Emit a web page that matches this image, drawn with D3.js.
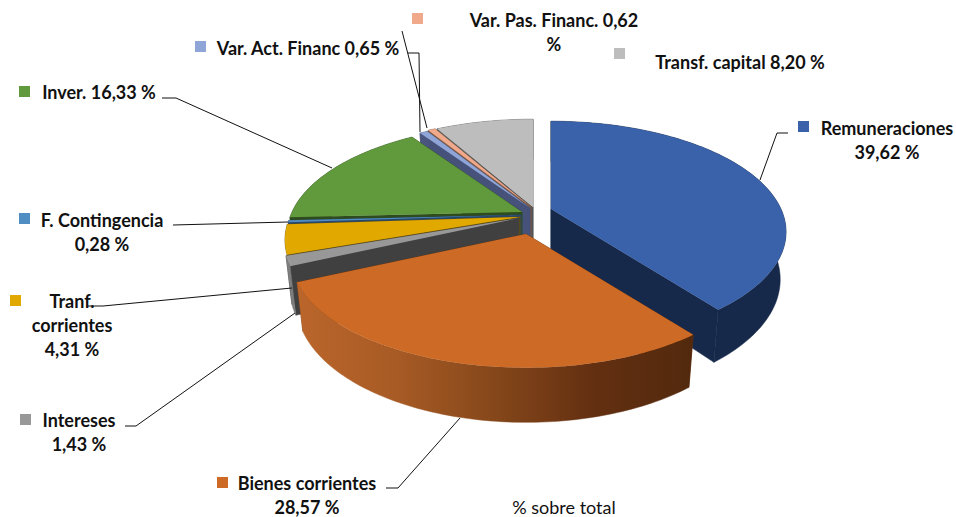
<!DOCTYPE html>
<html>
<head>
<meta charset="utf-8">
<script src="https://cdn.jsdelivr.net/npm/d3@7"></script>
<style>
html, body { margin: 0; padding: 0; background: #fff; }
text { font-family: Lato, "Open Sans", sans-serif; font-weight: 700; fill: #111; }
</style>
</head>
<body>
<svg id="chart" width="956" height="517"></svg>
<script>
// data, clockwise from twelve o'clock
const categories = ["Remuneraciones", "Bienes corrientes", "Intereses", "Tranf. corrientes", "F. Contingencia", "Inver.", "Var. Act. Financ", "Var. Pas. Financ.", "Transf. capital"]
const values = [39.62, 28.57, 1.43, 4.31, 0.28, 16.33, 0.65, 0.62, 8.20]
const footnote = "% sobre total"

// styles, same order as categories
const topColors = ["#3a62aa", "#cd6b26", "#989898", "#e1a900", "#4f8dc2", "#609a3c", "#8fa5d8", "#f0a98a", "#bdbdbd"]
const sideColors = ["#16294a", "url(#orangeWall)", "#7d7d7d", "#7a5c00", "#28486a", "#2f4c1e", "#4a5680", "#7a5a48", "#5b5b5b"]
const cutColors = ["#16294a", "#6a3512", "#404040", "#6e5300", "#28486a", "#2f4c1e", "#47527a", "#7a5a48", "#555555"]
const sliceShift = [[551, 209], [526, 234], [519, 218], [520, 217], [521, 215], [522, 212], [530, 208], [531, 207], [533, 207]]
const drawOrder = [8, 7, 6, 5, 4, 3, 2, 0, 1]

const svg = d3.select("#chart")
const tilt = 0.207, depth = 46, baseScale = 0.975
const scaleU = d3.scaleLinear().domain([-1, 1]).range([-230, 230])
const scaleV = d3.scaleLinear().domain([-1, 1]).range([-106, 106])

const slices = d3.pie().sort(null).value(d => d)(values)
const pathLine = d3.line()

// top=true is the upper face, otherwise the lower ring of the slice
function project(angle, radius, shift, top) {
    const u = Math.sin(angle) * radius
    const v = -Math.cos(angle) * radius
    const w = 1 / (1 - tilt * v)
    const k = top ? 1 : baseScale
    return [
        shift[0] + scaleU(u) * w * k,
        shift[1] + scaleV(v) * w * k + (top ? 0 : depth * w)
    ]
}

function arcAngles(s) {
    const n = Math.max(2, Math.ceil((s.endAngle - s.startAngle) / 0.02))
    return d3.range(n + 1).map(i => s.startAngle + (s.endAngle - s.startAngle) * i / n)
}

const defs = svg.append("defs")
const grad = defs.append("linearGradient")
    .attr("id", "orangeWall")
    .attr("gradientUnits", "userSpaceOnUse")
    .attr("x1", 295).attr("x2", 695).attr("y1", 0).attr("y2", 0)
grad.selectAll("stop")
    .data([[0, "#bb662b"], [0.25, "#a85b25"], [0.5, "#85471a"], [0.75, "#632f11"], [1, "#52290d"]])
    .enter().append("stop")
    .attr("offset", d => d[0])
    .attr("stop-color", d => d[1])

const pie = svg.append("g")
drawOrder.forEach(i => {
    const s = slices[i]
    const shift = sliceShift[i]
    const angles = arcAngles(s)
    const apexTop = project(0, 0, shift, true)
    const apexBase = project(0, 0, shift, false)

    // radial cut faces
    const cuts = [s.startAngle, s.endAngle].map(a => [apexTop, project(a, 1, shift, true), project(a, 1, shift, false), apexBase])
    pie.selectAll(null)
        .data(cuts)
        .enter().append("path")
        .attr("d", d => pathLine(d) + "Z")
        .attr("fill", cutColors[i])
        .attr("stroke", cutColors[i])
        .attr("stroke-width", 0.5)

    // outer wall
    const wall = angles.map(a => project(a, 1, shift, true))
        .concat(angles.slice().reverse().map(a => project(a, 1, shift, false)))
    pie.append("path")
        .attr("d", pathLine(wall) + "Z")
        .attr("fill", sideColors[i])
        .attr("stroke", sideColors[i])
        .attr("stroke-width", 0.5)

    // top face
    const face = [apexTop].concat(angles.map(a => project(a, 1, shift, true)))
    pie.append("path")
        .attr("d", pathLine(face) + "Z")
        .attr("fill", topColors[i])
})

// label layout, same order as categories
const pct = d3.formatLocale({ decimal: ",", thousands: ".", grouping: [3], currency: ["", ""] }).format(".2f")
const labelLines = [
    [categories[0], pct(values[0]) + " %"],
    [categories[1], pct(values[1]) + " %"],
    [categories[2], pct(values[2]) + " %"],
    ["Tranf.", "corrientes", pct(values[3]) + " %"],
    [categories[4], pct(values[4]) + " %"],
    [categories[5] + " " + pct(values[5]) + " %"],
    [categories[6] + " " + pct(values[6]) + " %"],
    [categories[7] + " " + pct(values[7]), "%"],
    [categories[8] + " " + pct(values[8]) + " %"]
]
const labelCenters = [[887, 135], [307, 490], [79, 427], [72, 308], [102, 227], [99, 99], [308, 55], [554, 27], [740, 69]]
const swatches = [[798, 121], [217, 477], [20, 414], [10, 295], [19, 213], [19, 86], [195, 41], [412, 13], [614, 48]]
const leaders = [
    [[760, 180], [777, 133], [788, 133]],
    [[386, 488], [398, 488], [460, 418]],
    [[125, 426], [136, 426], [295, 313]],
    [[88, 306], [103, 306], [292, 288]],
    [[173, 225], [288, 222]],
    [[162, 98], [176, 98], [332, 168]],
    [[408, 53], [419, 53], [420, 132]],
    [[402, 31], [427, 128]],
    []
]

svg.append("g").selectAll("path")
    .data(leaders.filter(d => d.length))
    .enter().append("path")
    .attr("d", d => pathLine(d))
    .attr("fill", "none")
    .attr("stroke", "#111")
    .attr("stroke-width", 1)

svg.append("g").selectAll("rect")
    .data(swatches)
    .enter().append("rect")
    .attr("x", d => d[0])
    .attr("y", d => d[1])
    .attr("width", 11)
    .attr("height", 11)
    .attr("fill", (d, i) => topColors[i])

labelLines.forEach((lines, i) => {
    svg.append("text")
        .attr("text-anchor", "middle")
        .attr("font-size", 18)
        .selectAll("tspan")
        .data(lines)
        .enter().append("tspan")
        .attr("x", labelCenters[i][0])
        .attr("y", (d, j) => labelCenters[i][1] + j * 24)
        .text(d => d)
})

svg.append("text")
    .attr("x", 564)
    .attr("y", 514)
    .attr("text-anchor", "middle")
    .attr("font-size", 18)
    .style("font-weight", 400)
    .text(footnote)
</script>
</body>
</html>
